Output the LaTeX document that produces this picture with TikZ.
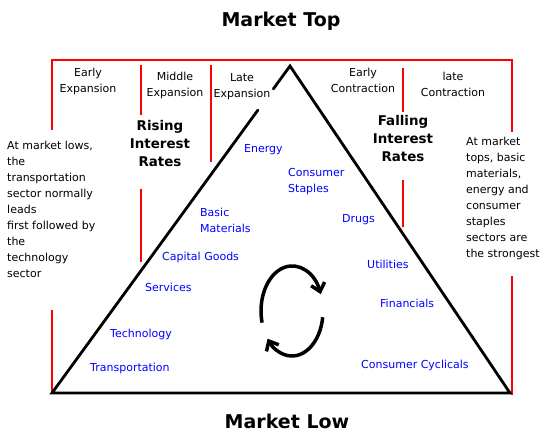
\documentclass[tikz,border=0pt]{standalone}
\usepackage{fontspec}
\setmainfont{DejaVu Sans}
\usetikzlibrary{arrows.meta,calc}
\definecolor{pblue}{RGB}{0,0,255}
\definecolor{pred}{RGB}{255,0,0}
\begin{document}
\begin{tikzpicture}[x=1pt,y=-1pt,
  redline/.style={draw=pred, line width=2pt},
  triline/.style={draw=black, line width=2.8pt, line cap=round, line join=miter},
  cycarrow/.style={draw=black, line width=3.5pt, -{Straight Barb[length=8pt,width=14pt]}},
  title/.style={font=\fontsize{19}{22}\selectfont\bfseries, anchor=base, inner sep=0pt},
  phase/.style={font=\fontsize{11}{16}\selectfont, align=center, anchor=north, inner sep=0pt},
  rates/.style={font=\fontsize{13.4}{18}\selectfont\bfseries, align=center, anchor=north, inner sep=0pt},
  para/.style={font=\fontsize{11}{16}\selectfont, align=left, anchor=north west, inner sep=0pt},
  sector/.style={font=\fontsize{11}{16}\selectfont, text=pblue, align=left, anchor=north west, inner sep=0pt}]
\useasboundingbox (0,0) rectangle (546,438);

% titles
\node[title] (top) at (281,27) {Market Top};
\node[title] (low) at (287,428) {Market Low};

% red frame lines
\draw[redline] (52,130) -- (52,60) -- (512,60) -- (512,132);
\draw[redline] (52,310) -- (52,393);
\draw[redline] (512,276) -- (512,395);
\draw[redline] (141,65) -- (141,115);
\draw[redline] (141,189) -- (141,262);
\draw[redline] (211,65) -- (211,162);
\draw[redline] (403,68) -- (403,112);
\draw[redline] (403,180) -- (403,227);

% triangle
\coordinate (apex) at (290,66);
\coordinate (bl) at (52,393);
\coordinate (br) at (510,393);
\draw[triline] ($(apex)!0.07!(bl)$) -- (apex) -- (br) -- (bl) -- ($(apex)!0.135!(bl)$);

% phase labels
\node[phase] (ee) at (88,68.3) {Early\\Expansion};
\node[phase] (me) at (175,72.3) {Middle\\Expansion};
\node[phase] (le) at (242,73.3) {Late\\Expansion};
\node[phase] (ec) at (363,68.3) {Early\\Contraction};
\node[phase] (lc) at (453,72.3) {late\\Contraction};

% rates
\node[rates] (rise) at (160,120.5) {Rising\\Interest\\Rates};
\node[rates] (fall) at (403,115.5) {Falling\\Interest\\Rates};

% side paragraphs
\node[para] (lowtxt) at (7,140.5) {At market lows,\\the\\transportation\\sector normally\\leads\\first followed by\\the\\technology\\sector};
\node[para] (toptxt) at (466,136.5) {At market\\tops, basic\\materials,\\energy and\\consumer\\staples\\sectors are\\the strongest};

% sectors
\node[sector] (energy) at (244,144.5) {Energy};
\node[sector] (staples) at (288,168.5) {Consumer\\Staples};
\node[sector] (basic) at (200,207.5) {Basic\\Materials};
\node[sector] (drugs) at (342,214.5) {Drugs};
\node[sector] (capital) at (162,251.5) {Capital Goods};
\node[sector] (util) at (367,259.5) {Utilities};
\node[sector] (serv) at (145,282.5) {Services};
\node[sector] (fin) at (380,298.5) {Financials};
\node[sector] (tech) at (110,328.5) {Technology};
\node[sector] (trans) at (90,362.5) {Transportation};
\node[sector] (cyc) at (361,359.5) {Consumer Cyclicals};

% cycle arrows
\coordinate (cyc1) at ($(292,311)+({31*cos(-195)},{45*sin(-195)})$);
\coordinate (cyc2) at ($(292,311)+({31*cos(8)},{45*sin(8)})$);
\draw[cycarrow] (cyc1) arc[start angle=-195, end angle=-22, x radius=31, y radius=45];
\draw[cycarrow] (cyc2) arc[start angle=8, end angle=142, x radius=31, y radius=45];
\end{tikzpicture}
\end{document}
